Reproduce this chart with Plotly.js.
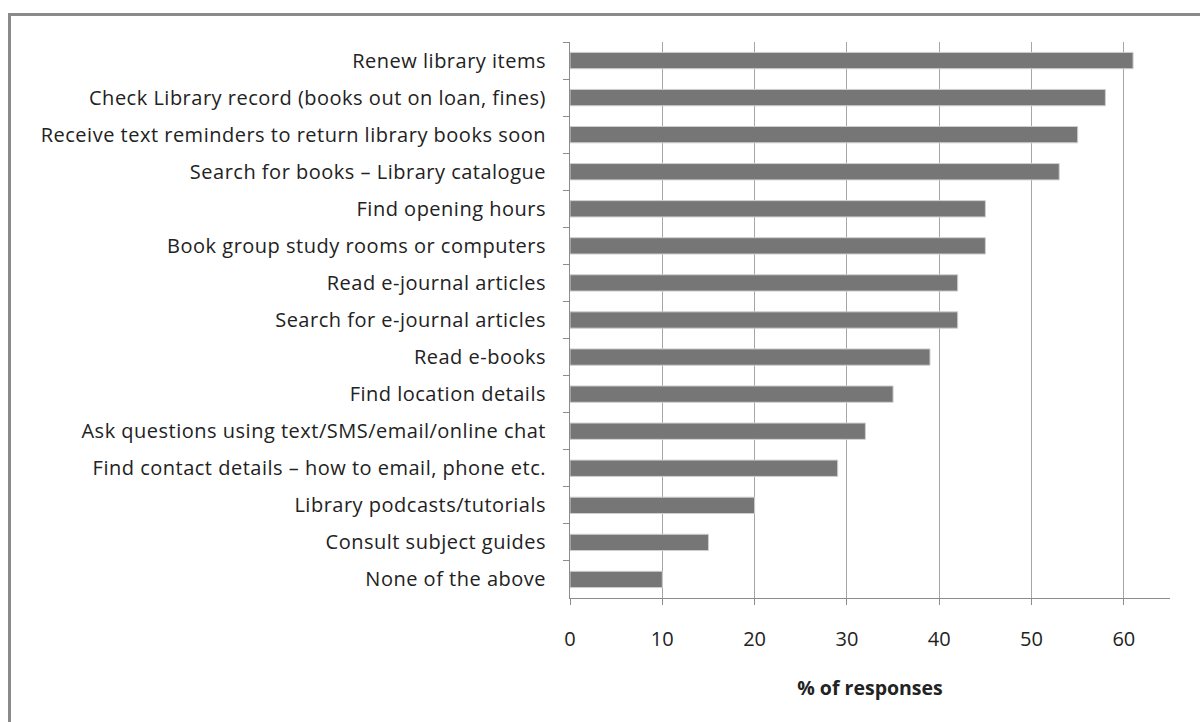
<!DOCTYPE html>
<html>
<head>
<meta charset="utf-8">
<script src="https://cdn.plot.ly/plotly-3.0.1.min.js"></script>
<style>
html,body{margin:0;padding:0;background:#fff;}
#wrap{position:relative;width:1200px;height:722px;overflow:hidden;}
#chart{width:1200px;height:722px;}
#frame{position:absolute;left:8px;top:13px;width:1300px;height:800px;border-left:3px solid #8a8a8a;border-top:3px solid #8a8a8a;pointer-events:none;}
#chart .ytick text{letter-spacing:0.5px;}
</style>
</head>
<body>
<div id="wrap"><div id="chart"></div><div id="frame"></div></div>
<script>
const categories = [
  "Renew library items",
  "Check Library record (books out on loan, fines)",
  "Receive text reminders to return library books soon",
  "Search for books \u2013 Library catalogue",
  "Find opening hours",
  "Book group study rooms or computers",
  "Read e-journal articles",
  "Search for e-journal articles",
  "Read e-books",
  "Find location details",
  "Ask questions using text/SMS/email/online chat",
  "Find contact details \u2013 how to email, phone etc.",
  "Library podcasts/tutorials",
  "Consult subject guides",
  "None of the above"
];
const percentages = [61, 58, 55, 53, 45, 45, 42, 42, 39, 35, 32, 29, 20, 15, 10];
const xTickValues = [0, 10, 20, 30, 40, 50, 60];

const fontFamily = "Open Sans, Noto Sans, sans-serif";

Plotly.newPlot("chart", [{
  type: "bar",
  orientation: "h",
  y: categories,
  x: percentages,
  marker: {color: "#767676", line: {color: "#cfcfcf", width: 1}},
  hoverinfo: "x+y"
}], {
  width: 1200, height: 722,
  margin: {l: 570, r: 30, t: 42, b: 124},
  paper_bgcolor: "#ffffff",
  plot_bgcolor: "#ffffff",
  bargap: 0.56,
  showlegend: false,
  font: {family: fontFamily, color: "#222", size: 16},
  xaxis: {
    range: [0, 65],
    tickvals: xTickValues,
    ticktext: xTickValues.map(String),
    showgrid: true, gridcolor: "#a6a6a6", gridwidth: 1,
    zeroline: false,
    showline: true, linecolor: "#8c8c8c", linewidth: 1,
    ticks: "outside", ticklen: 6, tickcolor: "#8c8c8c",
    tickfont: {size: 20, color: "#222"},
    ticklabelstandoff: 17,
    title: {text: "<b>% of responses</b>", font: {size: 19.5, color: "#222"}, standoff: 30},
    fixedrange: true
  },
  yaxis: {
    type: "category",
    autorange: "reversed",
    tickson: "boundaries",
    ticks: "outside", ticklen: 6, tickcolor: "#8c8c8c",
    showline: true, linecolor: "#8c8c8c", linewidth: 1,
    showgrid: false,
    tickfont: {size: 20, color: "#222"},
    ticklabelstandoff: 19,
    fixedrange: true
  }
}, {displayModeBar: false, staticPlot: true});
</script>
</body>
</html>
